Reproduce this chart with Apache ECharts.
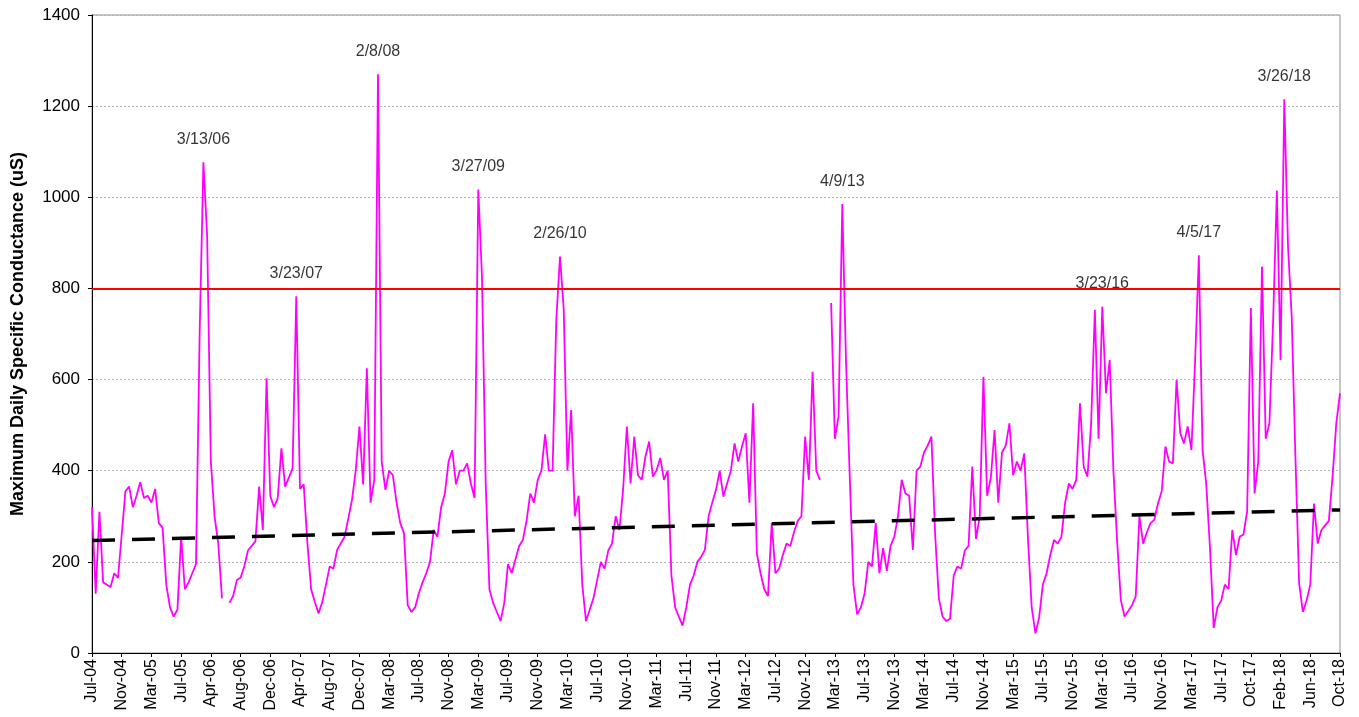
<!DOCTYPE html>
<html>
<head>
<meta charset="utf-8">
<script src="https://cdn.jsdelivr.net/npm/echarts@6/dist/echarts.min.js"></script>
<style>
  html, body { margin: 0; padding: 0; background: #ffffff; }
  #chart { width: 1359px; height: 717px; }
</style>
</head>
<body>
<div id="chart"></div>
<script>
// Month labels shown on the category axis, one every 8 samples
const tickLabels = ['Jul-04','Nov-04','Mar-05','Jul-05','Apr-06','Aug-06','Dec-06','Apr-07','Aug-07','Dec-07',
  'Mar-08','Jul-08','Nov-08','Mar-09','Jul-09','Nov-09','Mar-10','Jul-10','Nov-10','Mar-11',
  'Jul-11','Nov-11','Mar-12','Jul-12','Nov-12','Mar-13','Jul-13','Nov-13','Mar-14','Jul-14',
  'Nov-14','Mar-15','Jul-15','Nov-15','Mar-16','Jul-16','Nov-16','Mar-17','Jul-17','Oct-17',
  'Feb-18','Jun-18','Oct-18'];
const samplesPerTick = 8;

// Maximum daily specific conductance (uS); null = no record
const conductance = [
  320,130,310,155,150,145,175,165, 260,355,365,320,345,375,340,345,
  330,360,285,275,150,100,80,95, 255,140,155,175,195,709,1077,915,
  420,300,240,120,null,110,125,160, 165,190,225,235,245,365,270,603,
  345,320,340,449,365,385,405,783, 360,370,240,140,112,87,112,150,
  190,185,226,241,255,295,336,400, 497,370,625,330,380,1270,420,358,
  400,390,330,285,263,105,90,100, 131,155,175,200,270,255,320,350,
  420,445,370,400,400,416,372,340, 1017,825,372,140,110,90,70,110,
  195,175,205,235,248,290,350,330, 380,400,480,400,400,731,870,755,
  400,533,300,345,150,70,95,120, 160,200,185,225,240,300,270,360,
  497,372,475,390,380,431,464,387, 401,428,380,400,170,100,80,60,
  100,150,170,200,211,226,300,330, 358,400,343,372,400,460,420,453,
  482,330,548,218,175,140,125,285, 175,185,215,240,235,265,290,300,
  475,380,617,400,380,null,null,768, 470,520,985,640,390,150,85,100,
  130,200,190,285,175,230,180,235, 255,300,380,350,345,226,400,409,
  440,455,475,260,120,80,70,75, 170,190,185,225,235,409,250,300,
  606,345,385,489,330,440,455,504, 390,420,400,438,250,100,43,78,
  150,175,215,248,240,255,330,372, 360,380,548,409,387,504,753,470,
  760,570,643,400,245,116,80,92, 105,124,300,240,265,285,292,328,
  355,453,420,416,599,482,460,497, 445,643,873,445,370,230,55,100,
  115,150,140,270,215,255,260,310, 757,350,420,848,470,504,730,1015,
  643,1215,893,738,430,153,90,115, 150,328,240,270,280,290,387,504,
  570
];

// Dated peaks and the sample each date belongs to
const peakLabels  = ['3/13/06','3/23/07','2/8/08','3/27/09','2/26/10','4/9/13','3/23/16','4/5/17','3/26/18'];
const peakSamples = [30, 55, 77, 104, 126, 202, 272, 298, 321];

// Linear trend end values and the 800 uS reference level
const trendStart = 247;
const trendEnd = 314;
const threshold = 800;

const FONT = 'Liberation Sans, Arial, sans-serif';
const categories = conductance.map((_, i) => String(i));
const lastIndex = conductance.length - 1;

// Date labels sit on the peak values themselves
const peakData = peakSamples.map((s, j) => ({
  value: [s, conductance[s]],
  label: { formatter: peakLabels[j] }
}));

const chart = echarts.init(document.getElementById('chart'), null, { renderer: 'canvas' });

chart.setOption({
  animation: false,
  backgroundColor: '#ffffff',
  grid: {
    left: 92, right: 19, top: 15, bottom: 64,
    show: true,
    borderColor: '#8c8c8c',
    borderWidth: 1,
    backgroundColor: 'transparent'
  },
  xAxis: {
    type: 'category',
    data: categories,
    boundaryGap: false,
    axisLine: { lineStyle: { color: '#000000', width: 1 } },
    axisTick: { show: true, interval: samplesPerTick - 1, length: 4, lineStyle: { color: '#000000' } },
    axisLabel: {
      interval: samplesPerTick - 1,
      rotate: 90,
      margin: 6,
      color: '#000000',
      fontSize: 16,
      fontFamily: FONT,
      formatter: (val, idx) => tickLabels[Math.round(idx / samplesPerTick)] || ''
    },
    splitLine: { show: false }
  },
  yAxis: {
    type: 'value',
    min: 0,
    max: 1400,
    interval: 200,
    name: 'Maximum Daily Specific Conductance (uS)',
    nameLocation: 'middle',
    nameGap: 65,
    nameTextStyle: { color: '#000000', fontSize: 18, fontWeight: 'bold', fontFamily: FONT },
    axisLine: { show: true, lineStyle: { color: '#000000', width: 1 } },
    axisTick: { show: true, length: 4, lineStyle: { color: '#000000' } },
    axisLabel: {
      color: '#000000', fontSize: 17, fontFamily: FONT, margin: 12,
      formatter: (v) => String(v)
    },
    splitLine: { show: true, lineStyle: { color: '#b4b4b4', width: 1, type: [2, 2] } }
  },
  series: [
    {
      name: 'Max daily conductance',
      type: 'line',
      data: conductance,
      showSymbol: false,
      symbol: 'none',
      connectNulls: false,
      lineStyle: { color: '#ff00ff', width: 1.8 },
      itemStyle: { color: '#ff00ff' },
      z: 3,
      markLine: {
        silent: true,
        symbol: 'none',
        label: { show: false },
        lineStyle: { color: '#ff0000', width: 2, type: 'solid' },
        data: [{ yAxis: threshold }]
      }
    },
    {
      name: 'Trend',
      type: 'line',
      data: [[0, trendStart], [lastIndex, trendEnd]],
      showSymbol: false,
      symbol: 'none',
      lineStyle: { color: '#000000', width: 3.5, type: [23, 17] },
      z: 4
    },
    {
      name: 'Peak dates',
      type: 'scatter',
      data: peakData,
      symbolSize: 0,
      silent: true,
      z: 5,
      label: {
        show: true,
        position: 'top',
        distance: 15,
        color: '#000000',
        fontSize: 16,
        fontFamily: FONT
      }
    }
  ]
});
</script>
</body>
</html>
